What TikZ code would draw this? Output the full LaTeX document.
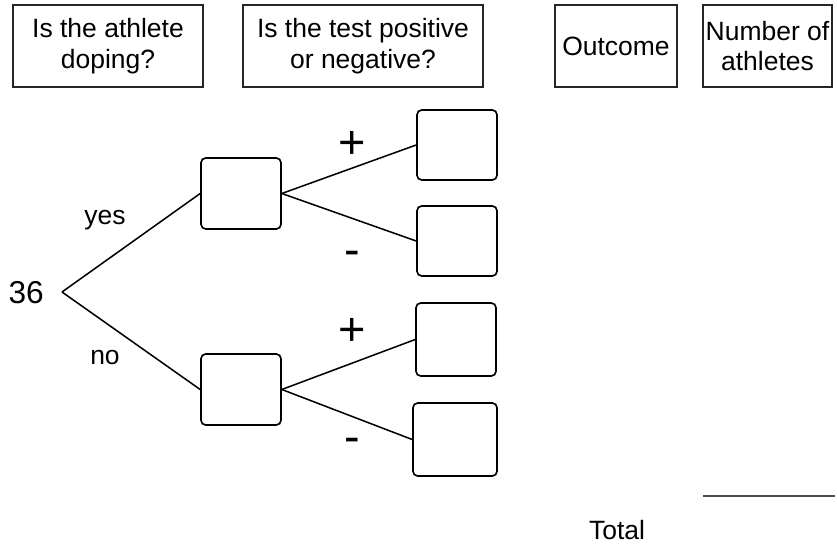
\documentclass[tikz,border=0pt]{standalone}
\usepackage{fontspec}
\setmainfont{Liberation Sans}
\usetikzlibrary{positioning}

\tikzset{
  head/.style={draw=black!85, line width=0.9pt, align=center, inner sep=0pt,
    minimum height=2.46cm, font=\fontsize{22.6}{26}\selectfont},
  cell/.style={draw, line width=1.4pt, rounded corners=4pt, inner sep=0pt,
    minimum width=2.4cm, minimum height=2.13cm},
  branch/.style={line width=1.3pt},
  lbl/.style={font=\fontsize{22.6}{26}\selectfont},
  sign/.style={font=\fontsize{40}{40}\selectfont, inner sep=0pt}
}

\begin{document}
\begin{tikzpicture}[x=0.03cm, y=-0.03cm]
\useasboundingbox (0,0) rectangle (837,544);

% column headings
\node[head, minimum width=5.7cm]  (hdope)  at (108, 46) {Is the athlete\\doping?};
\node[head, minimum width=7.2cm]  (htest)  at (363, 46) {Is the test positive\\or negative?};
\node[head, minimum width=3.66cm] (hout)   at (616, 46) {Outcome};
\node[head, minimum width=3.87cm] (hcount) at (767.5, 46) {Number of\\athletes};

% tree
\coordinate (root) at (62, 292);
\node[lbl, anchor=east, inner sep=0pt] (start) at (44, 293) {\fontsize{27}{30}\selectfont 36};

\node[cell] (dyes) at (241, 193.5) {};
\node[cell] (dno)  at (241, 389.5) {};

\node[cell, minimum height=2.1cm] (yespos) at (457, 145) {};
\node[cell, minimum height=2.1cm] (yesneg) at (457, 241) {};
\node[cell, minimum height=2.19cm] (nopos) at (456, 339.5) {};
\node[cell, minimum height=2.19cm, minimum width=2.52cm] (noneg) at (455, 439.5) {};

\draw[branch] (root) -- (dyes.west);
\draw[branch] (root) -- (dno.west);
\draw[branch] (dyes.east) -- (yespos.west);
\draw[branch] (dyes.east) -- (yesneg.west);
\draw[branch] (dno.east) -- (nopos.west);
\draw[branch] (dno.east) -- (noneg.west);

\node[lbl] (lyes) at (105, 220) {yes};
\node[lbl] (lno)  at (105, 358) {no};
\node[sign] (lpos1) at (352, 145) {+};
\node[sign] (lneg1) at (352, 258) {-};
\node[sign] (lpos2) at (352, 332) {+};
\node[sign] (lneg2) at (352, 445) {-};

% total line
\node[lbl] (total) at (617, 530) {Total};
\coordinate (sumL) at (703, 496);
\coordinate (sumR) at (835, 496);
\draw[line width=0.9pt, black!70] (sumL) -- (sumR);
\end{tikzpicture}
\end{document}
